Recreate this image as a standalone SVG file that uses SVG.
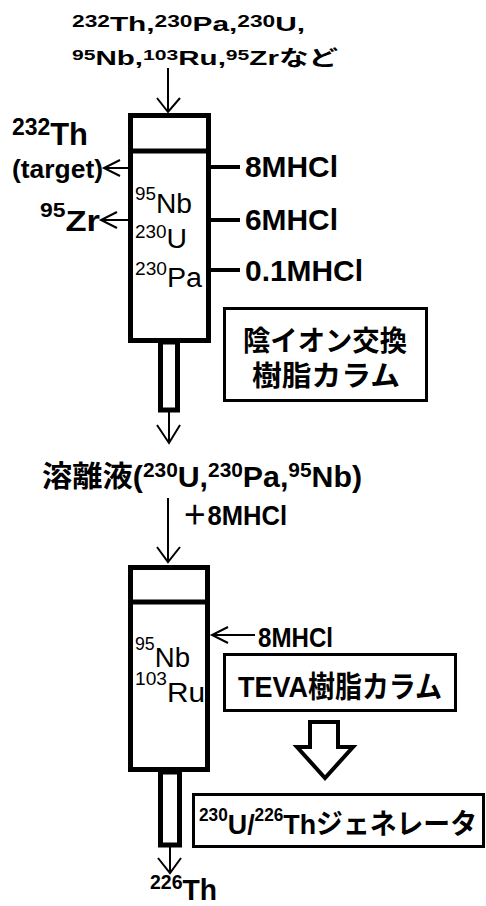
<svg xmlns="http://www.w3.org/2000/svg" width="486" height="906" viewBox="0 0 486 906">
<style>
.t{font-family:"Liberation Sans","Noto Sans CJK JP",sans-serif;fill:#000}
.b{font-weight:bold}
.col{fill:#fff;stroke:#000;stroke-width:5}
.box{fill:#fff;stroke:#000;stroke-width:3}
.ln{fill:none;stroke:#000;stroke-width:2}
.tk{fill:none;stroke:#000;stroke-width:4}
</style>
<rect width="486" height="906" fill="#fff"/>
<g id="feed-label">
<text class="t b" x="72" y="31" font-size="21" textLength="233" lengthAdjust="spacingAndGlyphs"><tspan font-size="16" dy="-4">232</tspan><tspan dy="4">Th,</tspan><tspan font-size="16" dy="-4">230</tspan><tspan dy="4">Pa,</tspan><tspan font-size="16" dy="-4">230</tspan><tspan dy="4">U,</tspan></text>
<text class="t b" x="72" y="65" font-size="21" textLength="266" lengthAdjust="spacingAndGlyphs"><tspan font-size="15" dy="-5">95</tspan><tspan dy="5">Nb,</tspan><tspan font-size="15" dy="-5">103</tspan><tspan dy="5">Ru,</tspan><tspan font-size="15" dy="-5">95</tspan><tspan dy="5">Zrなど</tspan></text>
</g>
<g id="column1">
<rect class="col" x="160.5" y="342" width="17" height="68"/>
<rect class="col" x="130.5" y="115.5" width="78" height="225"/>
<line x1="128" y1="151" x2="211" y2="151" stroke="#000" stroke-width="5"/>
<text class="t" x="135" y="213" font-size="27" textLength="57" lengthAdjust="spacingAndGlyphs"><tspan font-size="18" dy="-13">95</tspan><tspan dy="13">Nb</tspan></text>
<text class="t" x="135" y="248" font-size="27" textLength="52" lengthAdjust="spacingAndGlyphs"><tspan font-size="18" dy="-10">230</tspan><tspan dy="10">U</tspan></text>
<text class="t" x="135" y="287" font-size="27" textLength="67" lengthAdjust="spacingAndGlyphs"><tspan font-size="18" dy="-12">230</tspan><tspan dy="12">Pa</tspan></text>
</g>
<g id="th232-label">
<text class="t b" x="12" y="145" font-size="31" textLength="76" lengthAdjust="spacingAndGlyphs"><tspan font-size="23" dy="-10">232</tspan><tspan dy="10">Th</tspan></text>
<text class="t b" x="12" y="178" font-size="25" textLength="91" lengthAdjust="spacingAndGlyphs">(target)</text>
</g>
<g id="zr95-label">
<text class="t b" x="40" y="231" font-size="30" textLength="60" lengthAdjust="spacingAndGlyphs"><tspan font-size="20" dy="-14">95</tspan><tspan dy="14">Zr</tspan></text>
</g>
<g id="eluent-labels">
<text class="t b" x="245" y="177" font-size="30" textLength="93" lengthAdjust="spacingAndGlyphs">8MHCl</text>
<text class="t b" x="245" y="230" font-size="30" textLength="93" lengthAdjust="spacingAndGlyphs">6MHCl</text>
<text class="t b" x="245" y="281" font-size="30" textLength="118" lengthAdjust="spacingAndGlyphs">0.1MHCl</text>
</g>
<g id="anion-box">
<rect class="box" x="224.5" y="308.5" width="202" height="92"/>
<text class="t b" x="243" y="351" font-size="28" textLength="164" lengthAdjust="spacingAndGlyphs">陰イオン交換</text>
<text class="t b" x="252" y="386" font-size="28" textLength="148" lengthAdjust="spacingAndGlyphs">樹脂カラム</text>
</g>
<g id="eluate-label">
<text class="t b" x="42" y="487" font-size="29" textLength="320" lengthAdjust="spacingAndGlyphs">溶離液(<tspan font-size="20" dy="-10">230</tspan><tspan dy="10">U,</tspan><tspan font-size="20" dy="-10">230</tspan><tspan dy="10">Pa,</tspan><tspan font-size="20" dy="-10">95</tspan><tspan dy="10">Nb)</tspan></text>
</g>
<g id="add-hcl-label">
<text class="t b" x="182" y="525" font-size="27" textLength="105" lengthAdjust="spacingAndGlyphs">＋8MHCl</text>
</g>
<g id="column2">
<rect class="col" x="160.5" y="772" width="19" height="73"/>
<rect class="col" x="130.5" y="567.5" width="77" height="202"/>
<line x1="128" y1="602" x2="210" y2="602" stroke="#000" stroke-width="5"/>
<text class="t" x="135" y="667" font-size="28" textLength="55" lengthAdjust="spacingAndGlyphs"><tspan font-size="18" dy="-17">95</tspan><tspan dy="17">Nb</tspan></text>
<text class="t" x="135" y="702" font-size="28" textLength="70" lengthAdjust="spacingAndGlyphs"><tspan font-size="18" dy="-17">103</tspan><tspan dy="17">Ru</tspan></text>
</g>
<g id="wash-label">
<text class="t b" x="258" y="647" font-size="27" textLength="75" lengthAdjust="spacingAndGlyphs">8MHCl</text>
</g>
<g id="teva-box">
<rect class="box" x="224.5" y="654.5" width="231" height="56"/>
<text class="t b" x="238" y="697" font-size="30" textLength="204" lengthAdjust="spacingAndGlyphs">TEVA樹脂カラム</text>
</g>
<g id="block-arrow">
<polygon points="310,722 338,722 338,747 353,747 325,778 297,747 310,747" fill="#fff" stroke="#000" stroke-width="4" stroke-linejoin="miter"/>
</g>
<g id="generator-box">
<rect class="box" x="193.5" y="794.5" width="290" height="52"/>
<text class="t b" x="199" y="834" font-size="28" textLength="278" lengthAdjust="spacingAndGlyphs"><tspan font-size="18" dy="-13">230</tspan><tspan dy="13">U/</tspan><tspan font-size="18" dy="-13">226</tspan><tspan dy="13">Thジェネレータ</tspan></text>
</g>
<g id="th226-label">
<text class="t b" x="150" y="900" font-size="29" textLength="67" lengthAdjust="spacingAndGlyphs"><tspan font-size="20" dy="-11">226</tspan><tspan dy="11">Th</tspan></text>
</g>
<g id="connectors">
<path class="ln" d="M168,68V112M157,98L168,112L180,98"/>
<path class="ln" d="M128,168H104M120,160L104,168L120,176"/>
<path class="ln" d="M128,220H101M117,212L101,220L117,228"/>
<path class="tk" d="M211,167H240M211,220H240M211,270H240"/>
<path class="ln" d="M169,412V443M157,425L169,443L180,425"/>
<path class="ln" d="M168,498V562M157,547L168,562L180,547"/>
<path class="ln" d="M255,635H212M228,627L212,635L228,643"/>
<path class="ln" d="M170,847V873M158,858L170,873L181,858"/>
</g>
</svg>
